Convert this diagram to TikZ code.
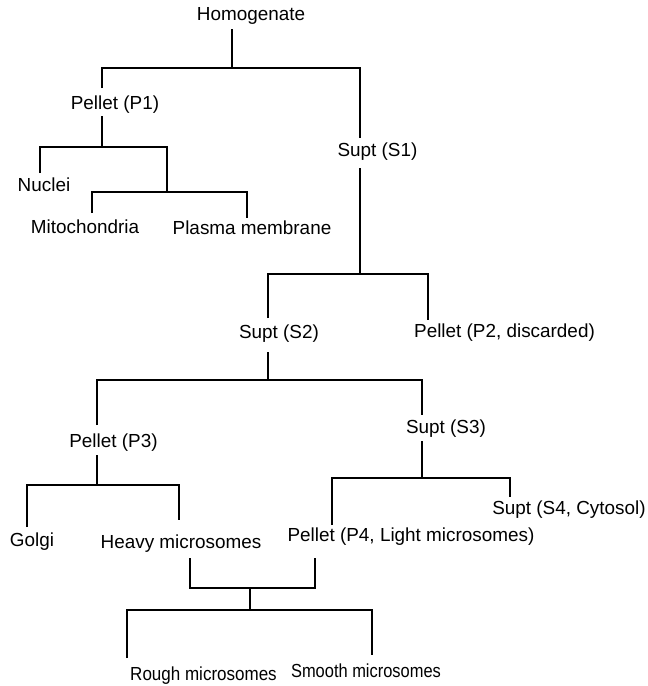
\documentclass[tikz,border=0pt]{standalone}
\usepackage{graphicx}
\usepackage{fontspec}
\setmainfont{Liberation Sans}
\begin{document}
\begin{tikzpicture}[x=1pt,y=-1pt,
  lbl/.style={inner sep=0pt, font=\fontsize{18.9}{22}\selectfont},
  ln/.style={line width=1.2pt, line join=miter, line cap=butt}]
\useasboundingbox (0,0) rectangle (648,686);
% labels
\node[lbl] (hom) at (251,16) {Homogenate};
\node[lbl] (p1) at (115,105) {Pellet (P1)};
\node[lbl] (nuc) at (44,185) {Nuclei};
\node[lbl] (mit) at (85,227) {Mitochondria};
\node[lbl] (pm) at (252,228) {Plasma membrane};
\node[lbl] (s1) at (377.5,152) {Supt (S1)};
\node[lbl] (s2) at (279,334) {Supt (S2)};
\node[lbl] (p2) at (504.5,333) {Pellet (P2, discarded)};
\node[lbl] (p3) at (113.5,443) {Pellet (P3)};
\node[lbl] (s3) at (446,429) {Supt (S3)};
\node[lbl] (gol) at (32,542) {Golgi};
\node[lbl] (hm) at (181,544) {Heavy microsomes};
\node[lbl] (p4) at (411,537) {Pellet (P4, Light microsomes)};
\node[lbl] (s4) at (569,510) {Supt (S4, Cytosol)};
\node[lbl] (rm) at (203.5,676) {\scalebox{0.9}[1]{Rough microsomes}};
\node[lbl] (sm) at (366,671) {\scalebox{0.87}[1]{Smooth microsomes}};
% junction coordinates
\coordinate (homB) at (232,29);
\coordinate (j0) at (232,68);
\coordinate (j0L) at (102,68);
\coordinate (j0R) at (360,68);
\coordinate (p1T) at (102,88);
\coordinate (p1B) at (102,116);
\coordinate (j1) at (102,147);
\coordinate (j1L) at (40,147);
\coordinate (j1R) at (167,147);
\coordinate (nucT) at (40,173);
\coordinate (j2) at (167,192);
\coordinate (j2L) at (92,192);
\coordinate (j2R) at (247,192);
\coordinate (mitT) at (92,213);
\coordinate (pmT) at (247,218);
\coordinate (s1T) at (360,138);
\coordinate (s1B) at (360,168);
\coordinate (j3) at (360,274);
\coordinate (j3L) at (268,274);
\coordinate (j3R) at (428,274);
\coordinate (p2T) at (428,320);
\coordinate (s2T) at (268,318);
\coordinate (s2B) at (268,352);
\coordinate (j4) at (268,380);
\coordinate (j4L) at (97,380);
\coordinate (j4R) at (422,380);
\coordinate (p3T) at (97,425);
\coordinate (s3T) at (422,415);
\coordinate (p3B) at (97,455);
\coordinate (j5) at (97,485);
\coordinate (j5L) at (27,485);
\coordinate (j5R) at (179,485);
\coordinate (golT) at (27,527);
\coordinate (hmT) at (179,520);
\coordinate (s3B) at (422,441);
\coordinate (j6) at (422,478);
\coordinate (j6L) at (332,478);
\coordinate (j6R) at (510,478);
\coordinate (p4T) at (332,525);
\coordinate (s4T) at (510,497);
\coordinate (hmB) at (190,558);
\coordinate (p4B) at (315,558);
\coordinate (j7L) at (190,588);
\coordinate (j7R) at (315,588);
\coordinate (j7) at (250,588);
\coordinate (j8) at (250,610);
\coordinate (j8L) at (127,610);
\coordinate (j8R) at (372,610);
\coordinate (rmT) at (127,658);
\coordinate (smT) at (372,655);
% connectors
\draw[ln] (homB) -- (j0);
\draw[ln] (p1T) -- (j0L) -- (j0R) -- (s1T);
\draw[ln] (p1B) -- (j1);
\draw[ln] (nucT) -- (j1L) -- (j1R) -- (j2);
\draw[ln] (mitT) -- (j2L) -- (j2R) -- (pmT);
\draw[ln] (s1B) -- (j3);
\draw[ln] (s2T) -- (j3L) -- (j3R) -- (p2T);
\draw[ln] (s2B) -- (j4);
\draw[ln] (p3T) -- (j4L) -- (j4R) -- (s3T);
\draw[ln] (p3B) -- (j5);
\draw[ln] (golT) -- (j5L) -- (j5R) -- (hmT);
\draw[ln] (s3B) -- (j6);
\draw[ln] (p4T) -- (j6L) -- (j6R) -- (s4T);
\draw[ln] (hmB) -- (j7L) -- (j7R) -- (p4B);
\draw[ln] (j7) -- (j8);
\draw[ln] (rmT) -- (j8L) -- (j8R) -- (smT);
\end{tikzpicture}
\end{document}
